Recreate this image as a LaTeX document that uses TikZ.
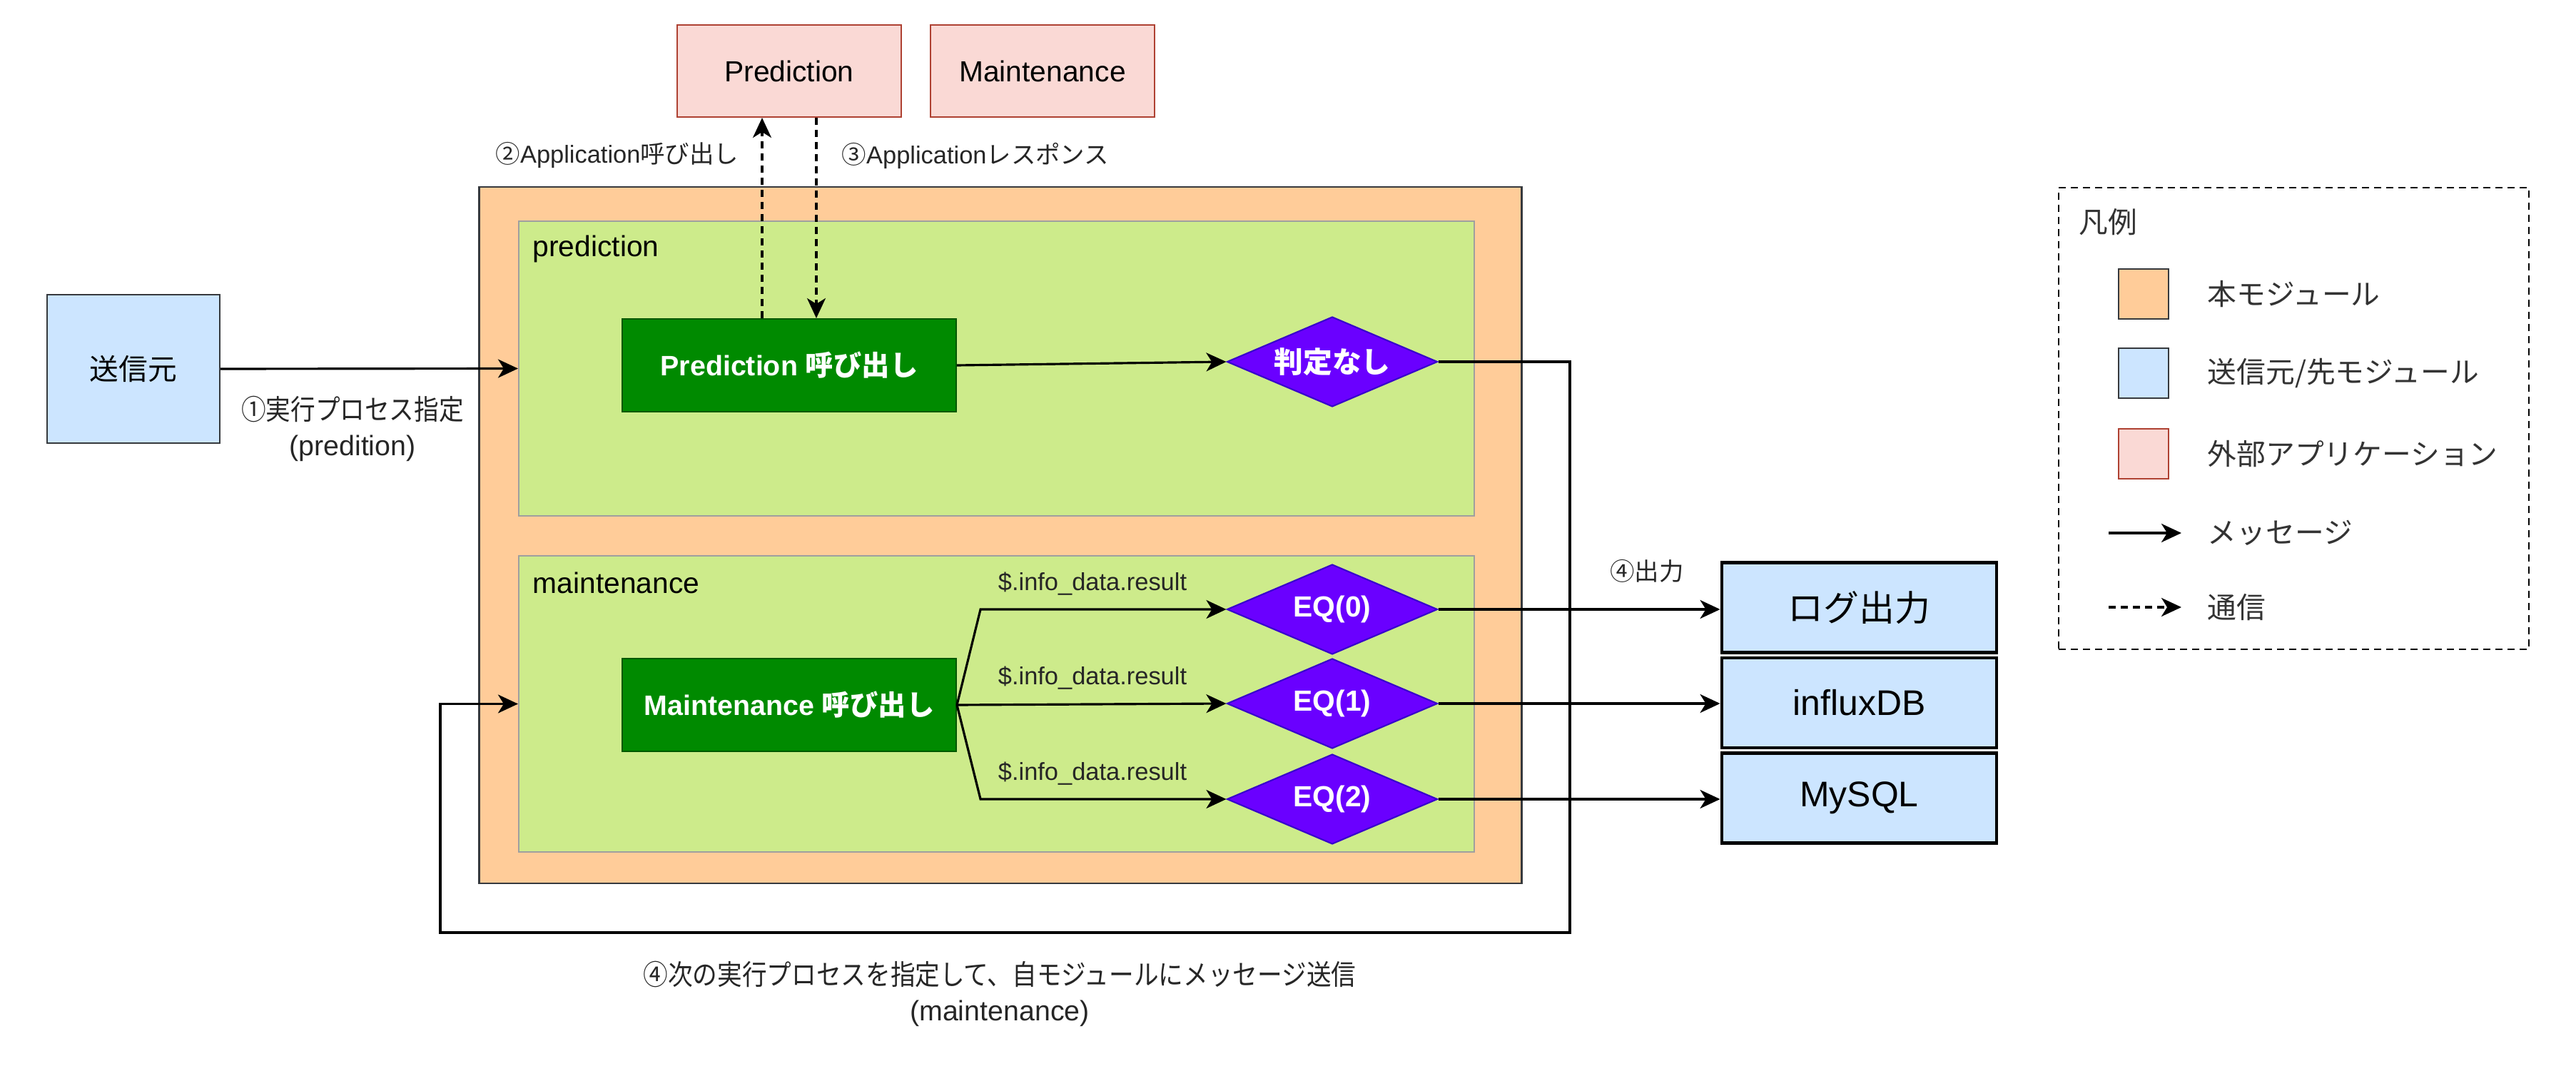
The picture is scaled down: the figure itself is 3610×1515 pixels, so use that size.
\documentclass[tikz,border=0pt]{standalone}
\usepackage{fontspec}
\setmainfont{Liberation Sans}
\newfontfamily\jpfont{Noto Sans CJK JP}
\newfontfamily\jpnarrow[FakeStretch=0.88]{Noto Sans CJK JP}
\usetikzlibrary{arrows.meta,shapes.geometric}

\definecolor{coreorange}{HTML}{FFCC99}
\definecolor{coreline}{HTML}{36393D}
\definecolor{grpgreen}{HTML}{CDEB8B}
\definecolor{callgreen}{HTML}{008A00}
\definecolor{callline}{HTML}{005700}
\definecolor{eqpurple}{HTML}{6A00FF}
\definecolor{eqline}{HTML}{3700CC}
\definecolor{endblue}{HTML}{CCE5FF}
\definecolor{apppink}{HTML}{FAD9D5}
\definecolor{appline}{HTML}{AE4132}

\newcommand\fntbig{\fontsize{14.2}{17}\selectfont}
\newcommand\fntmid{\fontsize{11.6}{14}\selectfont}
\newcommand\fntlbl{\fontsize{11.2}{14.2}\selectfont}
\newcommand\fntsmall{\fontsize{9.8}{12}\selectfont}

\tikzset{
  box/.style={draw, line width=0.6pt, inner sep=0pt, align=center},
  core/.style={box, fill=coreorange, draw=coreline},
  grp/.style={box, fill=grpgreen, draw=gray!75},
  grptitle/.style={anchor=west, inner sep=0pt, font=\fntmid},
  call/.style={box, fill=callgreen, draw=callline, text=white,
    minimum width=46.8mm, minimum height=13mm, font=\fntlbl\bfseries},
  cond/.style={box, diamond, aspect=2.34, fill=eqpurple, draw=eqline, text=white,
    minimum width=29.5mm, minimum height=12.6mm, font=\fntmid\bfseries},
  endpt/.style={box, fill=endblue, draw=coreline},
  outbox/.style={box, fill=endblue, draw=black, line width=1.4pt,
    minimum width=38.5mm, minimum height=12.6mm, font=\fntbig},
  app/.style={box, fill=apppink, draw=appline,
    minimum width=31.4mm, minimum height=12.9mm, font=\fntmid},
  elbl/.style={inner sep=0pt, align=center, text=black!85, font=\fntlbl},
  slbl/.style={inner sep=0pt, text=black!85, font=\fntsmall},
  msg/.style={-{Stealth[length=2.8mm,width=2.6mm,inset=0.8mm]}, line width=0.9pt},
  comm/.style={msg, dash pattern=on 1mm off 0.7mm},
  keybox/.style={draw, line width=0.8pt, dash pattern=on 1mm off 0.7mm, inner sep=0pt},
  swatch/.style={box, minimum width=7mm, minimum height=7mm},
  keytext/.style={anchor=west, inner sep=0pt, text=black!80, font=\fntmid}
}

\begin{document}
\begin{tikzpicture}[x=0.1mm,y=-0.1mm]
\useasboundingbox (0,0) rectangle (3610,1515);

% 本モジュール
\node[core, minimum width=146.1mm, minimum height=97.6mm] (core) at (1402,750) {};
\node[grp, minimum width=133.9mm, minimum height=41.3mm] (pred) at (1396.5,516.5) {};
\node[grp, minimum width=133.9mm, minimum height=41.5mm] (maint) at (1396.5,986.5) {};
\node[grptitle] (predtitle) at (746,349) {prediction};
\node[grptitle] (mainttitle) at (746,817) {maintenance};

\node[call] (predcall) at (1106,512) {Prediction {\jpfont 呼び出し}};
\node[cond] (judge) at (1867,507) {\jpfont 判定なし};

\node[call] (maintcall) at (1106,988) {Maintenance {\jpfont 呼び出し}};
\node[cond] (eq0) at (1867,854) {EQ(0)};
\node[cond] (eq1) at (1867,986) {EQ(1)};
\node[cond] (eq2) at (1867,1120) {EQ(2)};

% 送信元/先
\node[endpt, minimum width=24.2mm, minimum height=20.8mm, font=\fntmid] (src) at (187,517) {\jpfont 送信元};
\node[outbox] (log) at (2605.5,851.5) {\jpfont ログ出力};
\node[outbox] (influx) at (2605.5,985) {influxDB};
\node[outbox] (mysql) at (2605.5,1118.5) {MySQL};

% 外部アプリケーション
\node[app] (apppred) at (1106,99.5) {Prediction};
\node[app] (appmaint) at (1461,99.5) {Maintenance};

% connectors
\draw[msg] (src.east) -- (pred.west);
\draw[comm] ([xshift=-3.8mm]predcall.north) -- ([xshift=-3.8mm]apppred.south);
\draw[comm] ([xshift=3.8mm]apppred.south) -- ([xshift=3.8mm]predcall.north);
\draw[msg] (predcall.east) -- (judge.west);

\coordinate (fork) at ([xshift=3.3mm]maintcall.east);
\draw[msg] (maintcall.east) -- (fork |- eq0.west) -- (eq0.west);
\draw[msg] (maintcall.east) -- (eq1.west);
\draw[msg] (maintcall.east) -- (fork |- eq2.west) -- (eq2.west);

\draw[msg] (eq0.east) -- (eq0.east -| log.west);
\draw[msg] (eq1.east) -- (eq1.east -| influx.west);
\draw[msg] (eq2.east) -- (eq2.east -| mysql.west);

\coordinate (loopR) at (2200,1307);
\coordinate (loopL) at (617,1307);
\draw[msg] (judge.east) -| (loopR) -- (loopL) |- (maint.west);

% labels
\node[elbl] (lbl1) at (494,601) {{\jpnarrow ①実行プロセス指定}\\(predition)};
\node[slbl, anchor=east] (lbl2) at (1036,218) {{\jpfont ②}Application{\jpfont 呼び出し}};
\node[slbl, anchor=west] (lbl3) at (1179,218) {{\jpfont ③}Application{\jpfont レスポンス}};
\node[slbl] (lbl4) at (2308,800) {\jpfont ④出力};
\node[elbl] (lbl5) at (1401,1393) {{\jpnarrow ④次の実行プロセスを指定して、自モジュールにメッセージ送信}\\(maintenance)};
\node[slbl] (cnd0) at (1531,818) {\$.info\_data.result};
\node[slbl] (cnd1) at (1531,950) {\$.info\_data.result};
\node[slbl] (cnd2) at (1531,1084) {\$.info\_data.result};

% 凡例
\node[keybox, minimum width=65.9mm, minimum height=64.7mm] (keys) at (3214.5,586.5) {};
\node[keytext] (keytitle) at (2913,311) {\jpfont 凡例};
\node[swatch, fill=coreorange, draw=coreline] (sw1) at (3004,412) {};
\node[keytext] (kt1) at (3093,412) {\jpfont 本モジュール};
\node[swatch, fill=endblue, draw=coreline] (sw2) at (3004,523) {};
\node[keytext] (kt2) at (3093,523) {\jpfont 送信元/先モジュール};
\node[swatch, fill=apppink, draw=appline] (sw3) at (3004,636) {};
\node[keytext] (kt3) at (3093,636) {\jpfont 外部アプリケーション};
\coordinate (ka1) at (2955,747);
\coordinate (kb1) at (3057,747);
\draw[msg] (ka1) -- (kb1);
\node[keytext] (kt4) at (3093,747) {\jpfont メッセージ};
\coordinate (ka2) at (2955,851);
\coordinate (kb2) at (3057,851);
\draw[comm] (ka2) -- (kb2);
\node[keytext] (kt5) at (3093,851) {\jpfont 通信};
\end{tikzpicture}
\end{document}
